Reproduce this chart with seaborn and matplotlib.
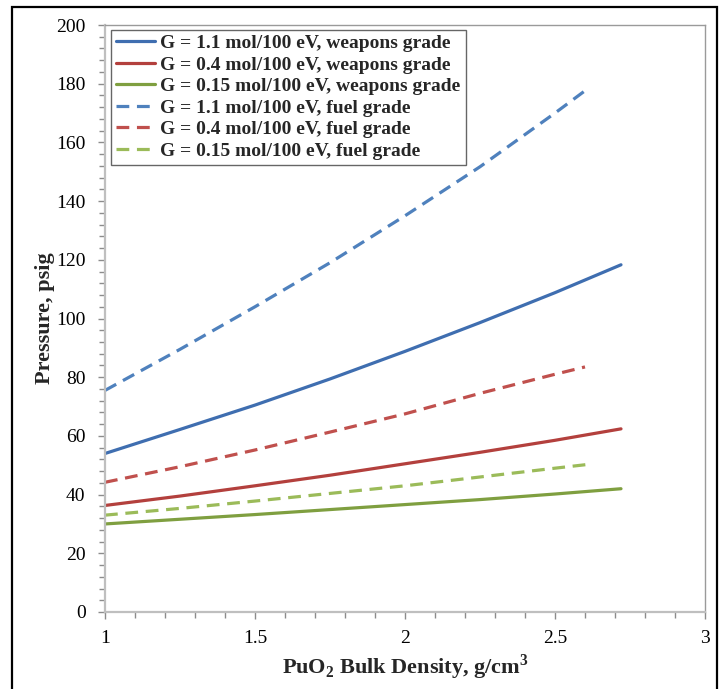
import matplotlib
matplotlib.use("Agg")
import matplotlib.pyplot as plt
from matplotlib.ticker import MultipleLocator
from matplotlib.patches import Rectangle
import seaborn as sns
import pandas as pd

# Data
x_weapons = [1.0, 1.25, 1.5, 1.75, 2.0, 2.25, 2.5, 2.72]
x_fuel_11 = [1.0, 1.25, 1.5, 1.75, 2.0, 2.25, 2.5, 2.6]
x_fuel_04 = [1.0, 1.25, 1.5, 1.75, 2.0, 2.25, 2.5, 2.6]
x_fuel_015 = [1.0, 1.25, 1.5, 1.75, 2.0, 2.25, 2.5, 2.62]

w_11 = [54.0, 62.2, 70.5, 79.4, 88.8, 98.6, 108.8, 118.3]
w_04 = [36.3, 39.5, 43.0, 46.6, 50.5, 54.4, 58.5, 62.4]
w_015 = [30.0, 31.6, 33.2, 34.9, 36.6, 38.3, 40.2, 42.0]
f_11 = [75.5, 89.5, 104.0, 119.0, 135.0, 151.7, 170.0, 177.6]
f_04 = [44.2, 49.5, 55.2, 61.3, 67.5, 74.5, 81.0, 83.5]
f_015 = [33.0, 35.3, 37.8, 40.4, 43.0, 46.0, 49.0, 50.4]

labels = [
    "G = 1.1 mol/100 eV, weapons grade",
    "G = 0.4 mol/100 eV, weapons grade",
    "G = 0.15 mol/100 eV, weapons grade",
    "G = 1.1 mol/100 eV, fuel grade",
    "G = 0.4 mol/100 eV, fuel grade",
    "G = 0.15 mol/100 eV, fuel grade",
]

series = [
    (x_weapons, w_11, "#3F6EB0", "-"),
    (x_weapons, w_04, "#B3403D", "-"),
    (x_weapons, w_015, "#7F9F40", "-"),
    (x_fuel_11, f_11, "#4F81BD", "--"),
    (x_fuel_04, f_04, "#C0504D", "--"),
    (x_fuel_015, f_015, "#9BBB59", "--"),
]

sns.set_style("white")
plt.rcParams["font.family"] = ["Liberation Serif", "DejaVu Serif"]
plt.rcParams["mathtext.fontset"] = "custom"
plt.rcParams["mathtext.rm"] = "Liberation Serif"
plt.rcParams["mathtext.bf"] = "Liberation Serif:bold"

fig = plt.figure(figsize=(7.24, 6.89), dpi=100)
ax = fig.add_axes([105 / 724, 1 - 612 / 689, 600 / 724, 587 / 689])

for (xs, ys, color, ls), label in zip(series, labels):
    df = pd.DataFrame({"x": xs, "y": ys})
    line = sns.lineplot(data=df, x="x", y="y", ax=ax, color=color,
                        linewidth=2.3, label=label)
    line.lines[-1].set_linestyle(ls)
    if ls == "--":
        line.lines[-1].set_dashes((4, 2.4))

ax.set_xlim(1, 3)
ax.set_ylim(0, 200)
ax.xaxis.set_major_locator(MultipleLocator(0.5))
ax.xaxis.set_minor_locator(MultipleLocator(0.1))
ax.yaxis.set_major_locator(MultipleLocator(20))
ax.yaxis.set_minor_locator(MultipleLocator(4))
ax.xaxis.set_major_formatter(plt.FuncFormatter(lambda v, p: f"{v:g}"))

ax.tick_params(which="both", direction="out", color="#8C8C8C", labelsize=14,
               labelcolor="black")
ax.tick_params(which="major", length=5, width=1)
ax.tick_params(which="minor", length=4, width=1)
ax.tick_params(axis="x", which="both", bottom=True, pad=8)
ax.tick_params(axis="y", which="both", left=True, pad=9)

for side in ["left", "bottom"]:
    ax.spines[side].set_color("#BFBFBF")
    ax.spines[side].set_linewidth(1.6)
for side in ["top", "right"]:
    ax.spines[side].set_visible(True)
    ax.spines[side].set_color("#9A9A9A")
    ax.spines[side].set_linewidth(1.0)

ax.set_xlabel(r"PuO$_\mathbf{2}$ Bulk Density, g/cm$^\mathbf{3}$",
              fontsize=16, fontweight="bold", labelpad=4)
ax.set_ylabel("Pressure, psig", fontsize=16, fontweight="bold", labelpad=1)

leg = ax.legend(loc="upper left", bbox_to_anchor=(0.005, 0.997),
                prop={"family": "Liberation Serif", "weight": "bold", "size": 14},
                frameon=True, fancybox=False, handlelength=2.0,
                handletextpad=0.3, labelspacing=0.2, borderpad=0.25,
                borderaxespad=0.15)
leg.get_frame().set_edgecolor("#404040")
leg.get_frame().set_linewidth(1.0)

fig.patches.append(Rectangle((12 / 724, -0.05), 705 / 724, 1.05 - 7 / 689,
                             transform=fig.transFigure, fill=False,
                             edgecolor="black", linewidth=1.6))

fig.savefig("out.png", dpi=100)
